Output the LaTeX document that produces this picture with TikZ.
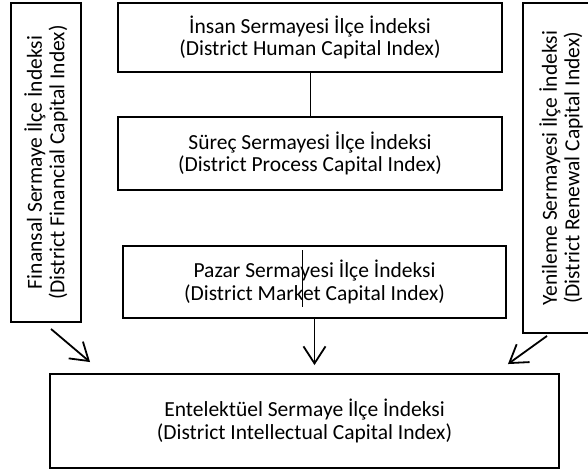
\documentclass[tikz,border=0pt]{standalone}
\usepackage{fontspec}
\setmainfont{Carlito}
\usetikzlibrary{arrows.meta}

\begin{document}
\begin{tikzpicture}[x=1pt, y=-1pt,
    box/.style={draw, line width=1.9pt, align=center, inner sep=0pt, font=\fontsize{21.5}{22.5}\selectfont},
    arr/.style={line width=1.8pt, -{Straight Barb[length=17pt, width=22pt]}}]
            \useasboundingbox (0,0) rectangle (588,471);

            % Nodes
            \node[box, minimum width=384pt, minimum height=69pt] (human) at (310, 37.5) {İnsan Sermayesi İlçe İndeksi\\(District Human Capital Index)};
            \node[box, minimum width=384pt, minimum height=73pt] (process) at (310, 153.5) {Süreç Sermayesi İlçe İndeksi\\(District Process Capital Index)};
            \node[box, minimum width=383pt, minimum height=72pt] (market) at (314.5, 282) {Pazar Sermayesi İlçe İndeksi\\(District Market Capital Index)};
            \node[box, rotate=90, minimum width=319pt, minimum height=70pt] (financial) at (46, 162.5) {Finansal Sermaye İlçe İndeksi\\(District Financial Capital Index)};
            \node[box, rotate=90, minimum width=330pt, minimum height=76pt] (renewal) at (561, 168) {Yenileme Sermayesi İlçe İndeksi\\(District Renewal Capital Index)};
            \node[box, minimum width=509pt, minimum height=94pt] (intellectual) at (304.5, 421) {Entelektüel Sermaye İlçe İndeksi\\(District Intellectual Capital Index)};

            % Lines
            \draw[line width=0.9pt] (human.south) -- (process.north);
            \draw[line width=0.6pt] ([xshift=-12.5pt, yshift=-5pt]market.north) -- ([xshift=-12.5pt, yshift=12pt]market.south);
            \draw[arr] (market.south) -- ([yshift=8pt]market.south |- intellectual.north);
            \draw[arr] ([xshift=5pt, yshift=-6pt]financial.west) -- ([xshift=41pt, yshift=11pt]intellectual.north west);
            \draw[arr] ([xshift=-14pt, yshift=-2pt]renewal.west) -- ([xshift=-52pt, yshift=9pt]intellectual.north east);
        \end{tikzpicture}
\end{document}
